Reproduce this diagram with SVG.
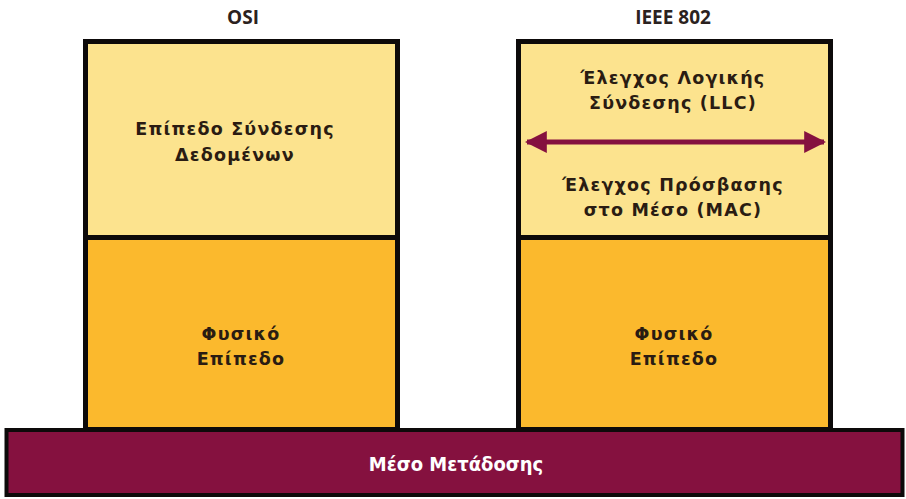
<svg xmlns="http://www.w3.org/2000/svg" width="906" height="499" viewBox="0 0 906 499">
<style>
.title{font-family:"Open Sans","DejaVu Sans",sans-serif;font-weight:bold;font-size:19px;fill:#2b2220;text-anchor:middle}
.lbl{font-family:"DejaVu Sans","Noto Sans",sans-serif;font-weight:bold;font-size:17.5px;fill:#2a1c12;text-anchor:middle;letter-spacing:1.2px}
.box{stroke:#0d0a0a;stroke-width:5}
.light{fill:#FCE38E}
.dark{fill:#FBB92D}
.medium{font-family:"DejaVu Sans Condensed","DejaVu Sans",sans-serif;font-stretch:condensed;font-weight:600;font-size:20px;fill:#ffffff;text-anchor:middle}
</style>
<defs>
<marker id="ah" viewBox="0 0 10 10" refX="9" refY="5" markerWidth="4.4" markerHeight="4.8" orient="auto-start-reverse" markerUnits="strokeWidth">
<path d="M0,0 L10,5 L0,10 z" fill="#85113F"/>
</marker>
</defs>
<text class="title" x="243" y="24">OSI</text>
<text class="title" x="673" y="24">IEEE 802</text>

<g id="osi-datalink">
<rect class="box light" x="85.5" y="41.5" width="312" height="196"/>
<text class="lbl" x="235" y="135">Επίπεδο Σύνδεσης</text>
<text class="lbl" x="235" y="161">Δεδομένων</text>
</g>
<g id="osi-physical">
<rect class="box dark" x="85.5" y="237.5" width="312" height="192"/>
<text class="lbl" x="241" y="340">Φυσικό</text>
<text class="lbl" x="241" y="365">Επίπεδο</text>
</g>

<g id="ieee-datalink">
<rect class="box light" x="518.5" y="41.5" width="312" height="196"/>
<text class="lbl" x="673" y="84">Έλεγχος Λογικής</text>
<text class="lbl" x="673" y="109">Σύνδεσης (LLC)</text>
<text class="lbl" x="673" y="191">Έλεγχος Πρόσβασης</text>
<text class="lbl" x="673" y="216">στο Μέσο (MAC)</text>
</g>
<g id="ieee-physical">
<rect class="box dark" x="518.5" y="237.5" width="312" height="192"/>
<text class="lbl" x="674" y="340">Φυσικό</text>
<text class="lbl" x="674" y="365">Επίπεδο</text>
</g>

<g id="connectors">
<line x1="527" y1="142" x2="824" y2="142" stroke="#85113F" stroke-width="5" marker-start="url(#ah)" marker-end="url(#ah)"/>
</g>

<g id="medium">
<rect x="6.5" y="430" width="896" height="65" fill="#85113F" stroke="#0d0a0a" stroke-width="4"/>
<text class="medium" x="456" y="471">Μέσο Μετάδοσης</text>
</g>
</svg>
